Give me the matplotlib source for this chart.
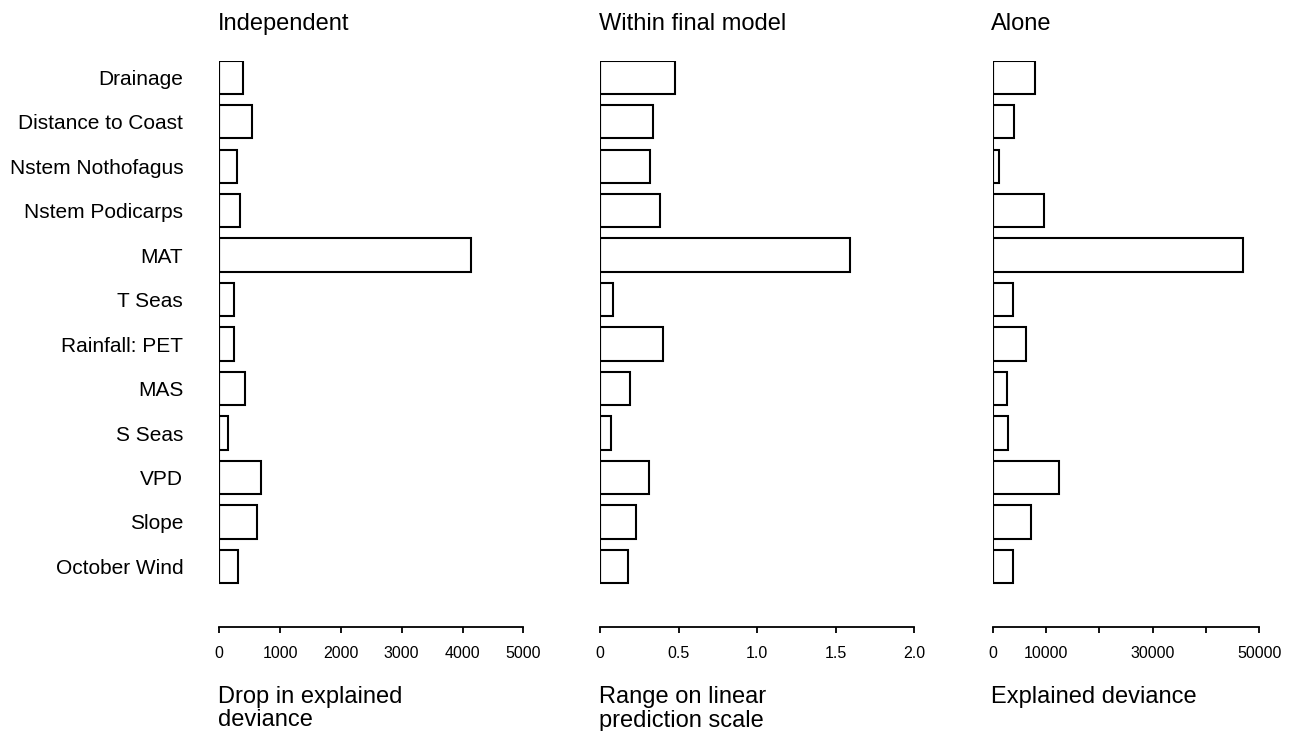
import matplotlib
matplotlib.use("Agg")
import matplotlib.pyplot as plt

plt.rcParams['font.family'] = ['Liberation Sans', 'DejaVu Sans']

# Predictor names, top to bottom
categories = ["Drainage", "Distance to Coast", "Nstem Nothofagus", "Nstem Podicarps",
              "MAT", "T Seas", "Rainfall: PET", "MAS", "S Seas", "VPD", "Slope",
              "October Wind"]

# Drop in explained deviance when each predictor is removed
independent = [383, 538, 296, 334, 4133, 235, 247, 416, 137, 685, 614, 307]
# Range of each term on the linear prediction scale in the final model
within_final = [0.475, 0.339, 0.318, 0.384, 1.590, 0.085, 0.399, 0.189, 0.068,
                0.310, 0.227, 0.176]
# Explained deviance of each predictor fitted alone
alone = [7940, 4000, 1250, 9690, 47000, 3810, 6250, 2690, 2940, 12500, 7250, 3810]

titles = ["Independent", "Within final model", "Alone"]
xlabels = [["Drop in explained", "deviance"],
           ["Range on linear", "prediction scale"],
           ["Explained deviance"]]
xticks = [[0, 1000, 2000, 3000, 4000, 5000],
          [0, 0.5, 1.0, 1.5, 2.0],
          [0, 10000, 20000, 30000, 40000, 50000]]
xticklabels = [["0", "1000", "2000", "3000", "4000", "5000"],
               ["0", "0.5", "1.0", "1.5", "2.0"],
               ["0", "10000", "", "30000", "", "50000"]]
series = [independent, within_final, alone]

W, H = 1296, 731
fig = plt.figure(figsize=(W / 100, H / 100), dpi=100)

# Panel placement in pixels: (left, right) of the x range
px_left = [219.3, 600.0, 992.7]
px_right = [523.3, 914.3, 1259.3]
px_top, px_bottom = 60.6, 627.0
pitch = 44.47
bar_h = 0.75
n = len(categories)
ypos = list(range(n))
y_top = -bar_h / 2
y_bot = y_top + (px_bottom - px_top) / pitch

for k in range(3):
    ax = fig.add_axes([px_left[k] / W, 1 - px_bottom / H,
                       (px_right[k] - px_left[k]) / W, (px_bottom - px_top) / H])
    ax.barh(ypos, series[k], height=bar_h, left=0, color="white",
            edgecolor="black", linewidth=1.5)
    ax.vlines(0, -bar_h / 2, n - 1 + bar_h / 2, color="black", linewidth=1.5)
    ax.set_xlim(xticks[k][0], xticks[k][-1])
    ax.set_ylim(y_bot, y_top)
    for s in ["top", "right", "left"]:
        ax.spines[s].set_visible(False)
    ax.spines["bottom"].set_bounds(xticks[k][0], xticks[k][-1])
    ax.spines["bottom"].set_linewidth(1.3)
    ax.set_xticks(xticks[k])
    ax.set_xticklabels(xticklabels[k])
    ax.tick_params(axis="x", direction="out", length=4.5, width=1.3,
                   labelsize=11.5, pad=9.5)
    if k == 0:
        ax.set_yticks(ypos)
        ax.set_yticklabels(categories)
        ax.tick_params(axis="y", length=0, labelsize=15, pad=26)
    else:
        ax.set_yticks([])
    x0 = px_left[k] / W - 0.001
    fig.text(x0, 1 - 30 / H, titles[k], fontsize=17, ha="left", va="baseline")
    for j, line in enumerate(xlabels[k]):
        fig.text(x0, 1 - (703 + 23.5 * j) / H, line, fontsize=17,
                 ha="left", va="baseline")

fig.savefig("out.png", dpi=100, facecolor="white")
